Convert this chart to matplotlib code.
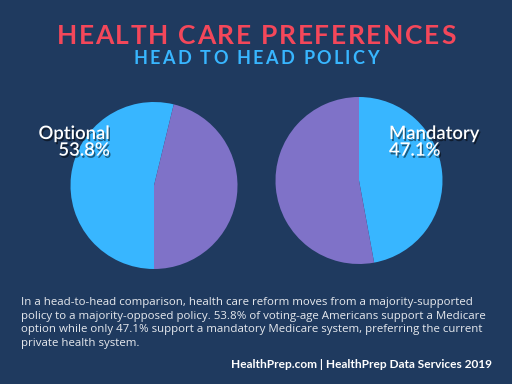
import matplotlib.pyplot as plt
import matplotlib.patheffects as pe

# data
policies = ['Optional', 'Mandatory']
support = [53.8, 47.1]
rest = [46.2, 52.9]

bg = '#1f3a5f'
blue = '#38b6ff'
purple = '#7f72c8'
red = '#f4475a'

W, H = 512, 384
fig = plt.figure(figsize=(W / 100, H / 100), dpi=100, facecolor=bg)
r = fig.canvas.get_renderer()


def spaced(txt, ypix, size, color, spacing):
    widths = []
    for ch in txt:
        t = fig.text(0, 0, ch, fontsize=size, weight='bold', family='Lato')
        widths.append(t.get_window_extent(r).width)
        t.remove()
    total = sum(widths) + spacing * (len(txt) - 1)
    x = (W - total) / 2
    for ch, w in zip(txt, widths):
        fig.text(x / W, 1 - ypix / H, ch, fontsize=size, weight='bold',
                 family='Lato', color=color, va='center', ha='left')
        x += w + spacing


spaced('HEALTH CARE PREFERENCES', 35.5, 19, red, 1.7)
spaced('HEAD TO HEAD POLICY', 58, 13, blue, 2.3)

# pies: (center x, center y, radius) in pixels
centers = [(154, 185.5), (359, 180.5)]
rad = 83.5
starts = [-90, 90]
shadow = [pe.SimplePatchShadow(offset=(1, -1.5), shadow_rgbFace='black', alpha=0.5), pe.Normal()]
for i in range(2):
    cx, cy = centers[i]
    ax = fig.add_axes([(cx - rad) / W, (H - cy - rad) / H, 2 * rad / W, 2 * rad / H])
    ax.pie([support[i], rest[i]], colors=[blue, purple], startangle=starts[i],
           counterclock=False, wedgeprops=dict(linewidth=0))
    ax.set_xlim(-1, 1)
    ax.set_ylim(-1, 1)
    ax.axis('off')

fig.text(110 / W, 1 - 126 / H, policies[0] + '\n' + f'{support[0]}%', fontsize=13.3,
         weight='semibold', family='Lato', color='white', ha='right', va='top',
         linespacing=1.05, path_effects=shadow)
fig.text(389 / W, 1 - 126 / H, policies[1] + '\n' + f'{support[1]}%', fontsize=13.3,
         weight='semibold', family='Lato', color='white', ha='left', va='top',
         linespacing=1.05, path_effects=shadow)

body = ('In a head-to-head comparison, health care reform moves from a majority-supported\n'
        'policy to a majority-opposed policy. 53.8% of voting-age Americans support a Medicare\n'
        'option while only 47.1% support a mandatory Medicare system, preferring the current\n'
        'private health system.')
fig.text(21 / W, 1 - 297 / H, body, fontsize=8.25, family='Open Sans', color='#e6e9ee',
         ha='left', va='top', linespacing=1.33)

fig.text(492 / W, 1 - 364 / H, 'HealthPrep.com | HealthPrep Data Services 2019',
         fontsize=8.6, weight='bold', family='Lato', color='white', ha='right', va='center')

fig.savefig('out.png', dpi=100, facecolor=bg)
